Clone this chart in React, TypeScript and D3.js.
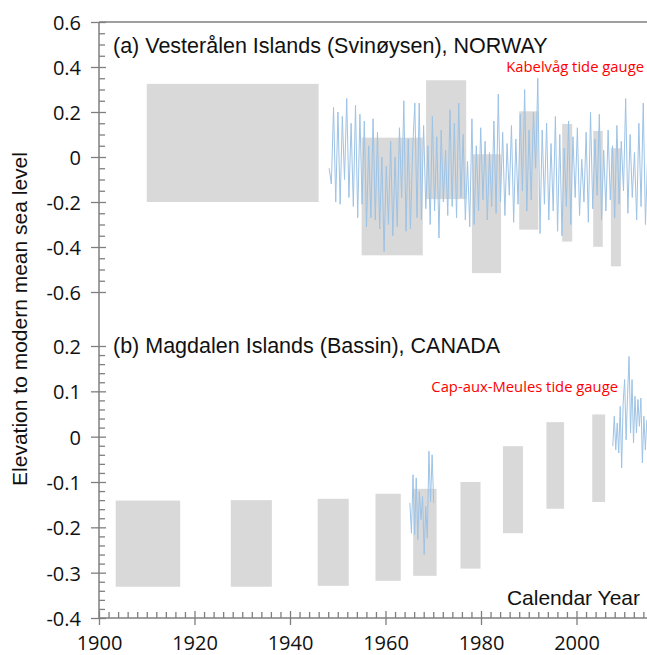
import * as d3 from "d3";
import { useRef, useEffect } from "react";

// panel (a) Vesterålen Islands – reconstructed sea-level boxes (years, metres)
const norwayBoxes = [
  { from: 1910, to: 1946, low: -0.2, high: 0.325 },
  { from: 1955, to: 1967.8, low: -0.437, high: 0.086 },
  { from: 1968.5, to: 1976.9, low: -0.187, high: 0.341 },
  { from: 1978.1, to: 1984.2, low: -0.516, high: 0.012 },
  { from: 1988, to: 1992, low: -0.323, high: 0.203 },
  { from: 1997, to: 1999.1, low: -0.376, high: 0.147 },
  { from: 2003.5, to: 2005.5, low: -0.399, high: 0.116 },
  { from: 2007.2, to: 2009.3, low: -0.486, high: 0.039 },
];

// panel (b) Magdalen Islands
const canadaBoxes = [
  { from: 1903.5, to: 1917, low: -0.331, high: -0.141 },
  { from: 1927.6, to: 1936.2, low: -0.331, high: -0.14 },
  { from: 1945.8, to: 1952.3, low: -0.329, high: -0.137 },
  { from: 1957.9, to: 1963.2, low: -0.318, high: -0.126 },
  { from: 1965.8, to: 1970.7, low: -0.307, high: -0.115 },
  { from: 1975.7, to: 1979.9, low: -0.291, high: -0.1 },
  { from: 1984.6, to: 1988.8, low: -0.213, high: -0.021 },
  { from: 1993.7, to: 1997.4, low: -0.159, high: 0.032 },
  { from: 2003.3, to: 2006, low: -0.144, high: 0.049 },
];

// Kabelvåg tide gauge (~0.46 yr spacing)
const kabelvagStart = 1948.2;
const kabelvagStep = 0.46;
const kabelvag = [
  -0.05, -0.12, 0.22, -0.2, 0.2, -0.21, 0.18, -0.1, 0.26, -0.18, 0.15, -0.22, 0.23, -0.27, 0.19,
  -0.21, 0.16, -0.31, 0.05, -0.27, 0.17, -0.28, 0.11, -0.32, 0.0, -0.42, -0.04, -0.3, 0.07, -0.35,
  0.0, -0.31, 0.13, -0.18, 0.25, -0.33, 0.08, -0.32, 0.03, 0.24, -0.27, 0.24, -0.28,
  0.14, -0.23, 0.05, -0.3, 0.18, -0.24, 0.09, -0.36, 0.12, -0.2, 0.03, -0.26, 0.21, -0.22, 0.15,
  -0.27, 0.24, -0.18, 0.1, -0.28, -0.02, -0.31, 0.17, -0.3, 0.05, -0.24, 0.13, -0.19, 0.07, -0.28,
  0.02, -0.22, 0.16, -0.25, 0.28, -0.2, 0.11, -0.26, 0.06, -0.17, 0.14, -0.29, 0.08, -0.21, 0.19,
  -0.15, 0.3, -0.24, 0.12, -0.19, 0.2,
  -0.05, 0.35, -0.34, 0.12, -0.21, 0.15, -0.28, 0.06, -0.24, 0.18, -0.33, 0.1, -0.35, 0.04, -0.22,
  0.16, -0.3, 0.09, -0.18, 0.13, -0.26, -0.01, -0.2, 0.11, -0.29, 0.2, -0.23, 0.08, -0.17, 0.19,
  -0.28, 0.03, -0.24, 0.12, -0.19, 0.05, -0.27, 0.14, -0.21, 0.07, -0.15, 0.26, -0.25, 0.1, -0.18,
  0.02, -0.28, 0.15, -0.22, 0.24, -0.3, 0.0,
];

// Cap-aux-Meules tide gauge, two records
const capEarlyStart = 1965.1;
const capEarlyStep = 0.333;
const capEarly = [
  -0.146, -0.213, -0.084, -0.216, -0.091, -0.227, -0.121, -0.183, -0.132, -0.26, -0.154, -0.224,
  -0.032, -0.143, -0.04, -0.146,
];
const capLateStart = 2007.6;
const capLateStep = 0.31;
const capLate = [
  -0.021, 0.045, -0.029, 0.03, -0.036, 0.067, -0.069, 0.074, 0.126, -0.007, 0.093, 0.177, 0.008,
  0.126, -0.014, 0.089, 0.008, 0.082, 0.023, 0.085, -0.058, 0.045, -0.029, 0.037,
];

const yearTicks = [1900, 1920, 1940, 1960, 1980, 2000];
const topTicks = [-0.6, -0.4, -0.2, 0, 0.2, 0.4, 0.6];
const bottomTicks = [-0.4, -0.3, -0.2, -0.1, 0, 0.1, 0.2];

const W = 647;
const H = 655;
const AXIS = "#7f7f7f";
const BOX = "#d9d9d9";
const GAUGE = "#9dc3e6";
const SANS = "'Liberation Sans', Arial, sans-serif";
const TICKFONT = "'Open Sans', sans-serif";

const App = () => {
  const svgRef = useRef(null);

  useEffect(() => {
    const x = d3.scaleLinear().domain([1900, 2015]).range([99, 99 + 115 * 4.775]);
    const yTop = d3.scaleLinear().domain([-0.6, 0.6]).range([292, 22]);
    const yBot = d3.scaleLinear().domain([-0.4, 0.2]).range([618, 346]);
    const fmt = (d) => String(Math.round(d * 10) / 10);

    const svg = d3.select(svgRef.current);
    svg.selectAll("*").remove();

    // boxes
    const drawBoxes = (boxes, y) =>
      svg
        .append("g")
        .selectAll("rect")
        .data(boxes)
        .enter()
        .append("rect")
        .attr("x", (d) => x(d.from))
        .attr("width", (d) => x(d.to) - x(d.from))
        .attr("y", (d) => y(d.high))
        .attr("height", (d) => y(d.low) - y(d.high))
        .attr("fill", BOX);
    drawBoxes(norwayBoxes, yTop);
    drawBoxes(canadaBoxes, yBot);

    // tide gauge lines
    const drawGauge = (vals, start, step, y) =>
      svg
        .append("path")
        .datum(vals)
        .attr("fill", "none")
        .attr("stroke", GAUGE)
        .attr("stroke-width", 1)
        .attr("stroke-linejoin", "round")
        .attr(
          "d",
          d3
            .line()
            .x((d, i) => x(start + i * step))
            .y((d) => y(d))
        );
    drawGauge(kabelvag, kabelvagStart, kabelvagStep, yTop);
    drawGauge(capEarly, capEarlyStart, capEarlyStep, yBot);
    drawGauge(capLate, capLateStart, capLateStep, yBot);

    // frame lines
    const frame = svg.append("g").attr("stroke", AXIS).attr("stroke-width", 1.5);
    frame.append("line").attr("x1", 99).attr("x2", 99).attr("y1", 22).attr("y2", 618);
    frame.append("line").attr("x1", 99).attr("x2", W).attr("y1", 22).attr("y2", 22);
    frame.append("line").attr("x1", 99).attr("x2", W).attr("y1", 618).attr("y2", 618);

    const style = (g) => {
      g.select(".domain").remove();
      g.selectAll("line").attr("stroke", AXIS).attr("stroke-width", 1.3);
      g.selectAll("text")
        .attr("fill", "#111")
        .attr("font-family", TICKFONT)
        .attr("font-size", 20);
    };

    const yAxes = (y, ticks, minorStep, lo, hi) => {
      const n = Math.round((hi - lo) / minorStep);
      const minors = d3
        .range(n + 1)
        .map((i) => lo + i * minorStep)
        .filter((v) => !ticks.some((t) => Math.abs(t - v) < 1e-6));
      svg
        .append("g")
        .attr("transform", "translate(99,0)")
        .call(d3.axisLeft(y).tickValues(ticks).tickSize(8).tickPadding(10).tickFormat(fmt))
        .call(style)
        .selectAll("text")
        .attr("dy", "0.37em");
      svg
        .append("g")
        .attr("transform", "translate(99,0)")
        .call(d3.axisRight(y).tickValues(ticks).tickSize(7).tickFormat(() => ""))
        .call(style);
      svg
        .append("g")
        .attr("transform", "translate(99,0)")
        .call(d3.axisRight(y).tickValues(minors).tickSize(6).tickFormat(() => ""))
        .call(style);
    };
    yAxes(yTop, topTicks, 0.05, -0.6, 0.6);
    yAxes(yBot, bottomTicks, 0.02, -0.4, 0.2);

    // x axis
    const minorYears = d3.range(1900, 2016, 2).filter((v) => v % 20 !== 0);
    svg
      .append("g")
      .attr("transform", "translate(0,618)")
      .call(d3.axisBottom(x).tickValues(yearTicks).tickSize(7).tickPadding(11).tickFormat(d3.format("d")))
      .call(style);
    svg
      .append("g")
      .attr("transform", "translate(0,618)")
      .call(d3.axisTop(x).tickValues(yearTicks).tickSize(7).tickFormat(() => ""))
      .call(style);
    svg
      .append("g")
      .attr("transform", "translate(0,618)")
      .call(d3.axisTop(x).tickValues(minorYears).tickSize(6).tickFormat(() => ""))
      .call(style);

    // titles and labels
    const label = (txt, px, py, opts = {}) =>
      svg
        .append("text")
        .attr("x", px)
        .attr("y", py)
        .attr("font-family", opts.font || SANS)
        .attr("font-size", opts.size || 21.5)
        .attr("fill", opts.fill || "#111")
        .attr("text-anchor", opts.anchor || "start")
        .text(txt);
    label("(a) Vesterålen Islands (Svinøysen), NORWAY", 113, 52.5);
    label("(b) Magdalen Islands (Bassin), CANADA", 113, 352.5);
    label("Calendar Year", 640, 605, { anchor: "end", size: 21 });
    label("Kabelvåg tide gauge", 644, 72, { font: TICKFONT, size: 14.8, fill: "#ff0000", anchor: "end" });
    label("Cap-aux-Meules tide gauge", 618, 392, { font: TICKFONT, size: 14.8, fill: "#ff0000", anchor: "end" });
    label("Elevation to modern mean sea level", 0, 0, { anchor: "middle", size: 21 }).attr(
      "transform",
      "translate(27,319) rotate(-90)"
    );
  }, []);

  return (
    <div style={{ position: "absolute", left: 0, top: 0 }}>
      <svg ref={svgRef} width={W} height={H} style={{ display: "block", background: "#fff" }} />
    </div>
  );
};

export default App;
